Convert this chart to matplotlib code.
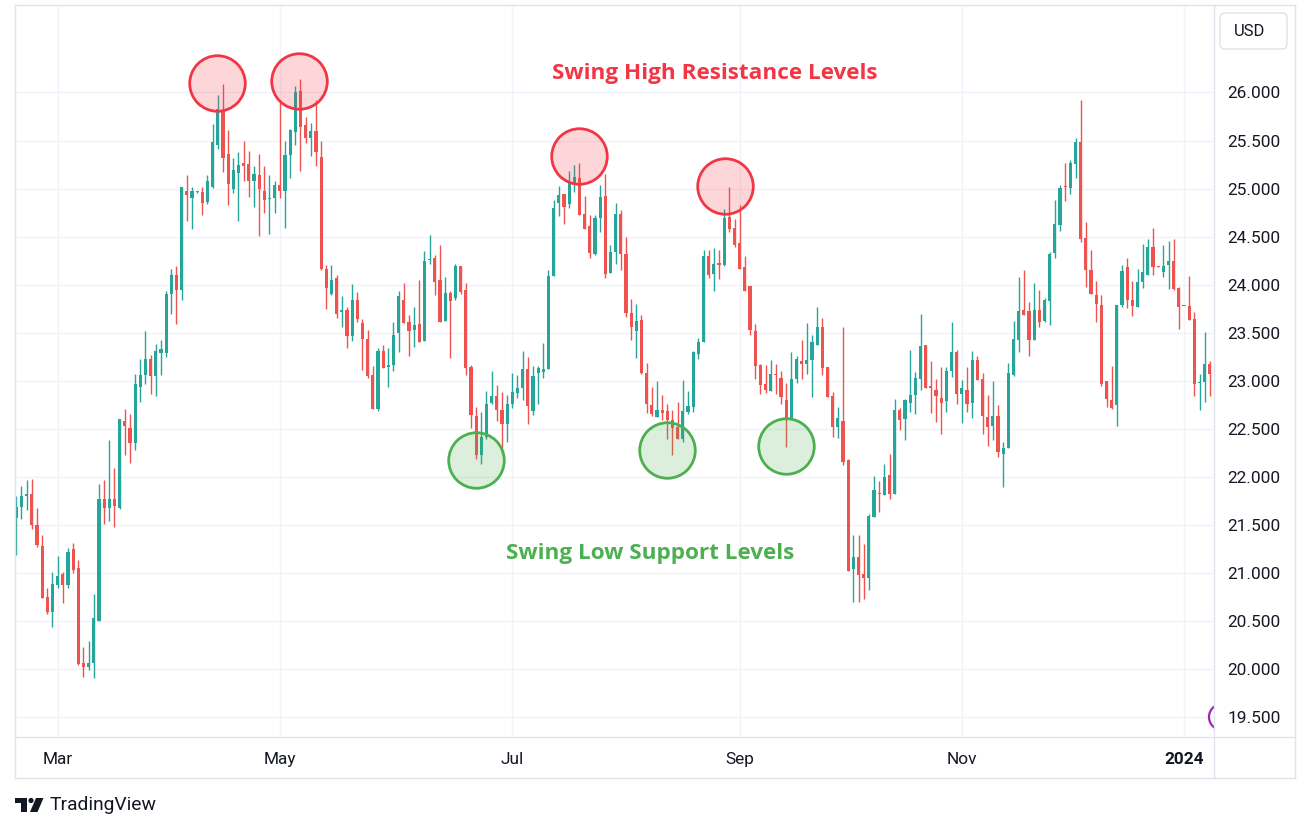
import numpy as np
import matplotlib
matplotlib.use("Agg")
import matplotlib.pyplot as plt
import matplotlib.transforms as mtransforms
from matplotlib.patches import FancyBboxPatch, Circle, Polygon
from matplotlib.lines import Line2D

# daily candles, XAG/USD, Feb 2023 - Jan 2024
opens = [21.57, 21.69, 21.80, 21.82, 21.50, 21.28, 20.75, 20.60, 20.88, 20.99,
         20.88, 21.25, 21.05, 20.06, 20.02, 20.06, 20.50, 21.77, 21.68, 21.77,
         21.68, 22.58, 22.51, 22.35, 22.94, 23.06, 23.23, 23.05, 23.29, 23.29,
         23.90, 24.10, 23.95, 24.97, 24.90, 24.96, 24.96, 24.86, 25.02, 25.45,
         25.82, 25.36, 25.00, 25.16, 25.27, 25.26, 25.08, 25.14, 24.98, 24.89,
         24.90, 25.04, 24.98, 25.35, 25.59, 26.02, 25.66, 25.53, 25.60, 25.33,
         24.16, 23.90, 24.07, 23.72, 23.74, 23.47, 23.84, 23.60, 23.44, 23.06,
         22.71, 23.31, 23.14, 23.17, 23.50, 23.84, 23.61, 23.53, 23.59, 23.41,
         24.26, 24.28, 24.05, 23.62, 23.91, 23.86, 24.19, 23.95, 23.14, 22.63,
         22.23, 22.42, 22.77, 22.84, 22.70, 22.55, 22.76, 22.87, 22.93, 23.12,
         22.69, 23.08, 23.09, 23.12, 24.09, 24.85, 24.94, 24.84, 25.05, 25.11,
         24.74, 24.61, 24.32, 24.69, 24.92, 24.12, 24.34, 24.74, 24.32, 23.71,
         23.52, 23.63, 23.08, 22.75, 22.62, 22.70, 22.69, 22.59, 22.52, 22.40,
         22.68, 22.73, 23.28, 23.40, 24.30, 24.11, 24.22, 24.21, 24.70, 24.59,
         24.43, 24.18, 23.99, 23.52, 23.16, 22.97, 22.89, 23.07, 23.03, 22.80,
         22.61, 23.02, 23.21, 23.18, 23.22, 23.37, 23.56, 23.14, 22.84, 22.52,
         22.58, 22.18, 21.04, 21.17, 20.99, 20.95, 21.58, 21.83, 21.81, 22.02,
         21.82, 22.70, 22.60, 22.77, 22.85, 23.02, 23.37, 22.94, 22.91, 22.82,
         22.79, 23.10, 23.30, 22.86, 22.91, 22.77, 23.22, 23.02, 22.62, 22.53,
         22.63, 22.24, 22.30, 23.06, 23.43, 23.74, 23.73, 23.42, 23.74, 23.62,
         23.83, 24.33, 24.62, 25.03, 25.01, 25.26, 25.48, 24.49, 24.15, 23.89,
         23.79, 23.00, 22.80, 22.75, 23.79, 24.18, 23.84, 23.77, 24.03, 24.10,
         24.39, 24.19, 24.13, 24.21, 24.25, 23.97, 23.78, 23.78, 23.64, 22.98,
         22.99, 23.18]
highs = [21.80, 21.91, 21.97, 21.98, 21.68, 21.40, 20.84, 21.01, 21.18, 21.01,
         21.26, 21.31, 21.14, 20.23, 20.29, 20.78, 21.93, 21.97, 22.38, 22.09,
         22.60, 22.71, 22.65, 23.07, 23.23, 23.52, 23.27, 23.38, 23.42, 23.93,
         24.16, 24.19, 25.02, 25.14, 25.02, 24.97, 25.02, 25.14, 25.67, 25.97,
         26.09, 25.61, 25.32, 25.38, 25.49, 25.39, 25.24, 25.36, 25.23, 25.14,
         25.08, 25.92, 25.49, 25.62, 26.07, 26.14, 25.74, 25.68, 25.92, 25.49,
         24.21, 24.21, 24.10, 23.88, 23.77, 24.01, 23.92, 23.64, 23.53, 23.15,
         23.34, 23.37, 23.34, 23.61, 23.93, 24.02, 23.68, 23.77, 24.05, 24.35,
         24.52, 24.31, 24.41, 24.08, 23.93, 24.22, 24.19, 24.02, 23.17, 22.73,
         22.68, 22.89, 23.10, 22.96, 22.88, 22.85, 23.08, 23.06, 23.31, 23.25,
         23.15, 23.15, 23.39, 24.15, 24.88, 25.03, 24.94, 25.18, 25.25, 25.27,
         24.92, 24.73, 24.73, 25.04, 25.15, 24.41, 24.85, 24.78, 24.50, 23.85,
         23.80, 23.68, 23.19, 22.94, 23.00, 22.85, 22.76, 22.70, 22.78, 23.01,
         22.89, 23.31, 23.45, 24.36, 24.36, 24.38, 24.36, 24.79, 25.02, 24.68,
         24.83, 24.30, 23.99, 23.59, 23.18, 23.17, 23.22, 23.18, 23.10, 22.98,
         23.30, 23.26, 23.42, 23.60, 23.48, 23.77, 23.65, 23.14, 22.88, 22.73,
         23.56, 22.19, 21.40, 21.40, 21.30, 21.62, 22.01, 21.96, 22.13, 22.24,
         22.81, 22.72, 22.81, 23.32, 23.09, 23.70, 23.37, 23.21, 23.02, 23.14,
         23.14, 23.61, 23.32, 23.01, 23.14, 23.31, 23.26, 23.08, 22.85, 23.00,
         22.75, 22.36, 23.19, 23.62, 24.08, 24.15, 23.82, 24.02, 23.95, 23.86,
         24.34, 24.88, 25.04, 25.27, 25.30, 25.53, 25.92, 24.65, 24.36, 24.04,
         23.89, 23.00, 23.15, 23.79, 24.21, 24.28, 24.04, 24.16, 24.42, 24.48,
         24.59, 24.19, 24.41, 24.45, 24.48, 23.98, 23.78, 24.09, 23.72, 23.07,
         23.51, 23.21]
lows = [21.19, 21.56, 21.66, 21.46, 21.27, 20.74, 20.57, 20.44, 20.84, 20.69,
        20.85, 21.00, 20.04, 19.92, 19.99, 19.91, 20.50, 21.51, 21.54, 21.48,
        21.67, 22.23, 22.15, 22.28, 22.78, 22.97, 22.86, 22.84, 23.06, 23.25,
        23.70, 23.59, 23.84, 24.66, 24.58, 24.95, 24.73, 24.84, 25.01, 25.41,
        25.17, 24.83, 24.95, 24.66, 25.08, 24.91, 24.81, 24.51, 24.75, 24.53,
        24.75, 24.90, 24.59, 25.11, 25.45, 25.18, 25.47, 25.34, 25.24, 24.15,
        23.75, 23.89, 23.65, 23.56, 23.34, 23.41, 23.61, 23.11, 23.03, 22.71,
        22.69, 23.13, 22.94, 23.10, 23.30, 23.60, 23.26, 23.35, 23.40, 23.41,
        24.22, 23.89, 23.61, 23.62, 23.24, 23.84, 23.90, 23.06, 22.51, 22.19,
        22.13, 22.40, 22.76, 22.58, 22.24, 22.36, 22.72, 22.82, 22.80, 22.55,
        22.64, 22.76, 23.03, 23.12, 24.09, 24.71, 24.63, 24.80, 24.96, 24.73,
        24.58, 24.28, 24.31, 24.55, 24.07, 24.12, 24.22, 24.15, 23.66, 23.42,
        23.24, 23.07, 22.67, 22.63, 22.62, 22.59, 22.39, 22.23, 22.40, 22.36,
        22.66, 22.68, 23.23, 23.40, 24.07, 23.93, 24.06, 24.19, 24.55, 24.39,
        24.16, 23.93, 23.48, 23.02, 22.86, 22.87, 22.89, 22.86, 22.76, 22.31,
        22.61, 22.98, 23.02, 23.07, 22.83, 23.37, 23.06, 22.83, 22.42, 22.41,
        22.12, 21.02, 20.70, 20.70, 20.73, 20.82, 21.58, 21.64, 21.81, 21.77,
        21.82, 22.49, 22.38, 22.68, 22.66, 22.90, 22.93, 22.67, 22.57, 22.45,
        22.68, 23.04, 22.76, 22.56, 22.68, 22.61, 23.01, 22.45, 22.32, 22.38,
        22.21, 21.90, 22.30, 23.05, 23.30, 23.68, 23.26, 23.42, 23.56, 23.61,
        23.58, 24.28, 24.56, 24.87, 24.94, 25.11, 24.44, 23.98, 23.90, 23.61,
        22.95, 22.73, 22.71, 22.53, 23.77, 23.76, 23.67, 23.77, 23.97, 24.10,
        24.10, 24.18, 24.08, 23.96, 23.95, 23.54, 23.78, 23.63, 22.84, 22.70,
        22.78, 22.84]
closes = [21.69, 21.80, 21.82, 21.50, 21.29, 20.74, 20.60, 20.89, 20.97, 20.88,
          21.22, 21.03, 20.05, 20.02, 20.07, 20.53, 21.77, 21.68, 21.77, 21.70,
          22.60, 22.53, 22.35, 22.97, 23.06, 23.23, 23.05, 23.31, 23.33, 23.90,
          24.10, 23.94, 25.02, 24.93, 24.97, 24.96, 24.85, 25.08, 25.48, 25.83,
          25.32, 25.05, 25.19, 25.25, 25.24, 25.08, 25.15, 25.00, 24.88, 24.90,
          25.04, 24.98, 25.35, 25.61, 26.00, 25.64, 25.53, 25.60, 25.38, 24.16,
          23.97, 24.05, 23.70, 23.73, 23.47, 23.84, 23.64, 23.44, 23.05, 22.71,
          23.31, 23.13, 23.17, 23.48, 23.88, 23.60, 23.52, 23.58, 23.40, 24.25,
          24.27, 24.03, 23.61, 23.91, 23.83, 24.19, 23.92, 23.13, 22.64, 22.23,
          22.42, 22.76, 22.84, 22.70, 22.55, 22.76, 22.88, 22.93, 23.12, 22.74,
          23.05, 23.13, 23.12, 24.09, 24.80, 24.93, 24.81, 25.07, 25.12, 24.73,
          24.58, 24.33, 24.69, 24.91, 24.11, 24.34, 24.74, 24.32, 23.71, 23.56,
          23.62, 23.08, 22.76, 22.65, 22.70, 22.67, 22.59, 22.51, 22.40, 22.69,
          22.74, 23.30, 23.40, 24.30, 24.10, 24.22, 24.21, 24.69, 24.58, 24.41,
          24.16, 23.93, 23.53, 23.15, 22.96, 22.90, 23.07, 23.06, 22.83, 22.60,
          23.02, 23.23, 23.18, 23.22, 23.40, 23.56, 23.13, 22.83, 22.52, 22.61,
          22.16, 21.02, 21.17, 20.98, 20.95, 21.59, 21.86, 21.82, 22.00, 21.82,
          22.70, 22.59, 22.80, 22.85, 23.03, 23.36, 22.93, 22.93, 22.84, 22.77,
          23.10, 23.30, 22.86, 22.93, 22.76, 23.22, 23.01, 22.63, 22.52, 22.63,
          22.26, 22.30, 23.08, 23.44, 23.73, 23.69, 23.42, 23.74, 23.61, 23.84,
          24.32, 24.63, 25.01, 25.02, 25.27, 25.48, 24.48, 24.15, 23.90, 23.80,
          22.97, 22.81, 22.72, 23.79, 24.14, 23.84, 23.78, 24.03, 24.13, 24.39,
          24.18, 24.18, 24.20, 24.25, 23.96, 23.77, 23.78, 23.63, 22.97, 22.99,
          23.18, 23.07]

month_labels = ["Mar", "May", "Jul", "Sep", "Nov", "2024"]
month_bars = [8, 51, 96, 140, 183, 226]

price_ticks = [19.5, 20.0, 20.5, 21.0, 21.5, 22.0, 22.5, 23.0, 23.5, 24.0, 24.5, 25.0, 25.5, 26.0]

# swing points marked on the chart (bar index, price)
swing_high_bars = [38.9, 54.7, 109.0, 137.1]
swing_high_px = [26.10, 26.12, 25.34, 25.03]
swing_low_bars = [89.0, 125.9, 149.0]
swing_low_px = [22.18, 22.28, 22.32]

UP = "#26a69a"
DOWN = "#ef5350"
GRID = "#f0f3fa"
FRAME = "#e0e3eb"
TXT = "#131722"

W, H = 1310, 832
fig = plt.figure(figsize=(W / 100, H / 100), dpi=100)
fig.patch.set_facecolor("white")

# pixel coords (origin top-left) -> figure
pix = mtransforms.Affine2D().scale(1 / W, -1 / H).translate(0, 1) + fig.transFigure

L, R, T, B = 15, 1214, 5, 737
ax = fig.add_axes([L / W, 1 - B / H, (R - L) / W, (B - T) / H])
ax.set_xlim(-0.25, 231.8)
ax.set_ylim(19.295, 26.91)

o = np.array(opens)
h = np.array(highs)
lo = np.array(lows)
c = np.array(closes)
x = np.arange(len(o))
up = c >= o
cols = np.where(up, UP, DOWN)

ax.vlines(x, lo, h, colors=cols, linewidth=1.0, zorder=2)
body_bot = np.minimum(o, c)
body_h = np.maximum(np.abs(c - o), 0.012)
ax.bar(x, body_h, bottom=body_bot, width=0.62, color=cols, linewidth=0, zorder=3)

# swing markers
ax.plot(swing_high_bars, swing_high_px, "o", ms=40, mfc=(0.949, 0.212, 0.271, 0.2),
        mec="#f23645", mew=2.0, zorder=4)
ax.plot(swing_low_bars, swing_low_px, "o", ms=40, mfc=(0.298, 0.686, 0.314, 0.2),
        mec="#4caf50", mew=2.0, zorder=4)

ax.text(715, 74, "Swing High Resistance Levels", transform=pix, color="#f23645",
        fontsize=16.2, fontweight="bold", family="Open Sans", ha="center", va="center", zorder=5)
ax.text(650, 553, "Swing Low Support Levels", transform=pix, color="#4caf50",
        fontsize=16.2, fontweight="bold", family="Open Sans", ha="center", va="center", zorder=5)

# event badge at the right edge (clipped by plot area)
badge = Circle((1222, 717), 13, transform=pix, facecolor="none", edgecolor="#9c27b0", linewidth=1.6)
ax.add_patch(badge)
badge.set_clip_path(ax.patch)

# grid and axes
ax.set_yticks(price_ticks)
ax.set_yticklabels([f"{v:.3f}" for v in price_ticks])
ax.yaxis.tick_right()
ax.tick_params(axis="y", length=0, pad=9.5, labelsize=12.4, labelcolor=TXT)
for lab in ax.get_yticklabels():
    lab.set_horizontalalignment("left")
    lab.set_family("Roboto")

ax.set_xticks(month_bars)
ax.set_xticklabels(month_labels)
ax.tick_params(axis="x", length=0, pad=10.5, labelsize=12.4, labelcolor=TXT)
for lab in ax.get_xticklabels():
    lab.set_family("Roboto")
ax.get_xticklabels()[-1].set_fontweight("bold")

ax.grid(True, color=GRID, linewidth=1.0, zorder=0)
ax.set_axisbelow(True)
for s in ax.spines.values():
    s.set_visible(False)

# outer frame and separators
frame_lines = [((15, 1295), (5, 5)), ((15, 1295), (778, 778)), ((15, 15), (5, 778)),
               ((1295, 1295), (5, 778)), ((15, 1295), (737, 737)), ((1214, 1214), (5, 778))]
for xs, ys in frame_lines:
    fig.add_artist(Line2D(xs, ys, transform=pix, color=FRAME, linewidth=1.0))

# currency box
fig.add_artist(FancyBboxPatch((1220, 13), 67, 36, boxstyle="round,pad=0,rounding_size=5",
                              transform=pix, facecolor="white", edgecolor=FRAME, linewidth=1.0))
fig.text(1250, 31, "USD", transform=pix, ha="center", va="center", fontsize=12,
         family="Roboto", color=TXT)

# TradingView logo
fig.add_artist(Polygon([(15, 798), (27, 798), (27, 812), (21, 812), (21, 803), (15, 803)],
                       closed=True, transform=pix, facecolor=TXT, edgecolor="none"))
fig.add_artist(Circle((31, 800.5), 2.6, transform=pix, facecolor=TXT, edgecolor="none"))
fig.add_artist(Polygon([(36, 798), (43.5, 798), (37.5, 812), (30, 812)],
                       closed=True, transform=pix, facecolor=TXT, edgecolor="none"))
fig.text(50, 805, "TradingView", transform=pix, ha="left", va="center", fontsize=13.9,
         family="Roboto", color=TXT)

fig.savefig("out.png", dpi=100, facecolor="white")
